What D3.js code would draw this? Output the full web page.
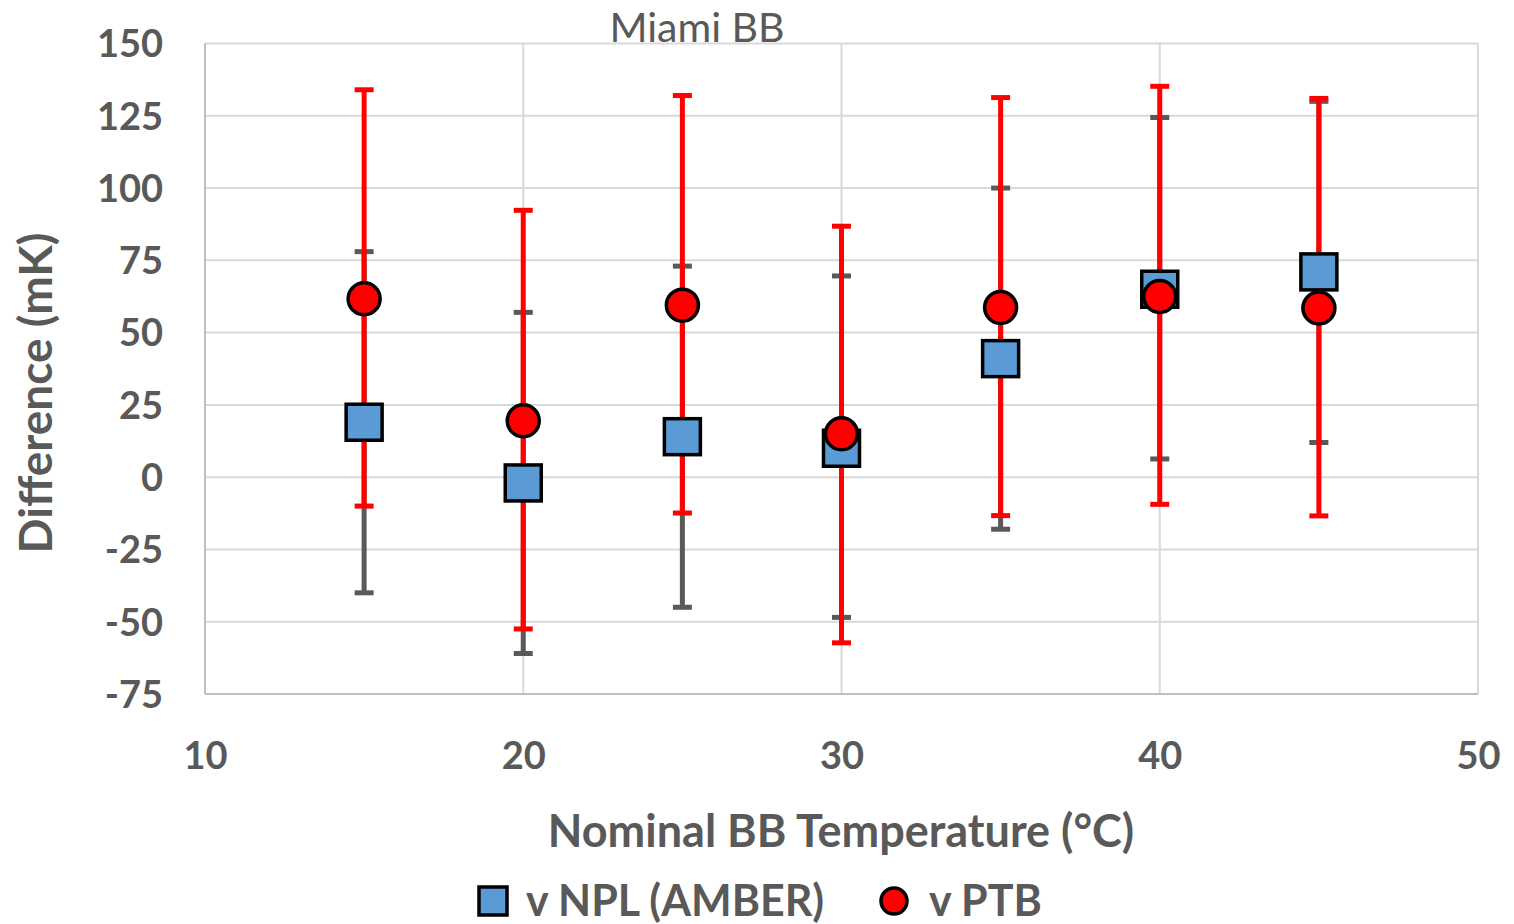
<!DOCTYPE html>
<html><head><meta charset="utf-8">
<script src="https://cdn.jsdelivr.net/npm/d3@7"></script>
<style>body{margin:0;background:#fff}svg{display:block}</style>
</head><body>
<script>
// Data
const temps = [15, 20, 25, 30, 35, 40, 45];
const nplValues = [19, -2, 14, 10, 41, 65, 71];
const nplLow = [-40, -61, -45, -48.5, -18, 6.3, 12];
const nplHigh = [78, 57, 73, 69.6, 100, 124.4, 130];
const ptbValues = [61.7, 19.5, 59.5, 15, 58.7, 62.5, 58.5];
const ptbLow = [-10, -52.5, -12.4, -57.3, -13.3, -9.4, -13.4];
const ptbHigh = [134, 92.3, 132, 86.8, 131.3, 135.2, 131];
const xTicks = [10, 20, 30, 40, 50];
const yTicks = [-75, -50, -25, 0, 25, 50, 75, 100, 125, 150];
const seriesNames = ["v NPL (AMBER)", "v PTB"];
const titleText = "Miami BB";
const xTitle = "Nominal BB Temperature (°C)";
const yTitle = "Difference (mK)";

const W = 1514, H = 924;
const L = 205, R = 1478, T = 43.5, B = 694;
const font = "Lato, 'Open Sans', sans-serif";
const txt = "#595959";

const svg = d3.select("body").append("svg").attr("width", W).attr("height", H);
const x = d3.scaleLinear().domain([10, 50]).range([L, R]);
const y = d3.scaleLinear().domain([-75, 150]).range([B, T]);

// gridlines
svg.append("g").selectAll("line").data(yTicks).join("line")
  .attr("x1", L).attr("x2", R).attr("y1", d => y(d)).attr("y2", d => y(d))
  .attr("stroke", "#d9d9d9").attr("stroke-width", 2);
svg.append("g").selectAll("line").data(xTicks).join("line")
  .attr("x1", d => x(d)).attr("x2", d => x(d)).attr("y1", T).attr("y2", B)
  .attr("stroke", "#d9d9d9").attr("stroke-width", 2);
// axis lines
svg.append("line").attr("x1", L).attr("x2", L).attr("y1", T).attr("y2", B).attr("stroke", "#bfbfbf").attr("stroke-width", 2);
svg.append("line").attr("x1", L).attr("x2", R).attr("y1", B).attr("y2", B).attr("stroke", "#bfbfbf").attr("stroke-width", 2);

// axes labels via d3 axes
const yAxis = svg.append("g").attr("transform", `translate(${L},0)`)
  .call(d3.axisLeft(y).tickValues(yTicks).tickFormat(d => String(d)).tickSize(0).tickPadding(42));
yAxis.select(".domain").remove();
yAxis.selectAll("text").attr("font-family", font).attr("font-weight", "bold")
  .attr("font-size", 38).attr("fill", txt).attr("dy", "0.35em");

const xAxis = svg.append("g").attr("transform", `translate(0,${B})`)
  .call(d3.axisBottom(x).tickValues(xTicks).tickFormat(d => String(d)).tickSize(0).tickPadding(48));
xAxis.select(".domain").remove();
xAxis.selectAll("text").attr("font-family", font).attr("font-weight", "bold")
  .attr("font-size", 38).attr("fill", txt);

// error bars
function errBars(low, high, color) {
  const g = svg.append("g");
  temps.forEach((t, i) => {
    const cx = x(t);
    g.append("line").attr("x1", cx).attr("x2", cx).attr("y1", y(low[i])).attr("y2", y(high[i]))
      .attr("stroke", color).attr("stroke-width", 5);
    [low[i], high[i]].forEach(v => {
      g.append("line").attr("x1", cx - 9.5).attr("x2", cx + 9.5).attr("y1", y(v)).attr("y2", y(v))
        .attr("stroke", color).attr("stroke-width", 5);
    });
  });
}
errBars(nplLow, nplHigh, "#595959");
errBars(ptbLow, ptbHigh, "#ff0000");

// markers
const sq = 36;
svg.append("g").selectAll("rect").data(temps).join("rect")
  .attr("x", d => x(d) - sq / 2).attr("y", (d, i) => y(nplValues[i]) - sq / 2)
  .attr("width", sq).attr("height", sq)
  .attr("fill", "#5b9bd5").attr("stroke", "#000").attr("stroke-width", 3.5);
svg.append("g").selectAll("circle").data(temps).join("circle")
  .attr("cx", d => x(d)).attr("cy", (d, i) => y(ptbValues[i])).attr("r", 16)
  .attr("fill", "#ff0000").attr("stroke", "#000").attr("stroke-width", 3.5);

// titles
svg.append("text").attr("x", 697).attr("y", 42).attr("text-anchor", "middle")
  .attr("font-family", font).attr("font-size", 41).attr("fill", txt).text(titleText);
svg.append("text").attr("x", 841).attr("y", 847).attr("text-anchor", "middle")
  .attr("font-family", font).attr("font-weight", "bold").attr("font-size", 45).attr("fill", txt).text(xTitle);
svg.append("text").attr("transform", "translate(52,393) rotate(-90)").attr("text-anchor", "middle")
  .attr("font-family", font).attr("font-weight", "bold").attr("font-size", 46).attr("fill", txt).text(yTitle);

// legend
const lg = svg.append("g");
lg.append("rect").attr("x", 479).attr("y", 887).attr("width", 28).attr("height", 28)
  .attr("fill", "#5b9bd5").attr("stroke", "#000").attr("stroke-width", 3.5);
lg.append("text").attr("x", 526).attr("y", 916).attr("font-family", font).attr("font-weight", "bold")
  .attr("font-size", 43).attr("fill", txt).text(seriesNames[0]);
lg.append("circle").attr("cx", 894).attr("cy", 901).attr("r", 13)
  .attr("fill", "#ff0000").attr("stroke", "#000").attr("stroke-width", 3.5);
lg.append("text").attr("x", 929).attr("y", 916).attr("font-family", font).attr("font-weight", "bold")
  .attr("font-size", 43).attr("fill", txt).text(seriesNames[1]);
</script>
</body></html>
